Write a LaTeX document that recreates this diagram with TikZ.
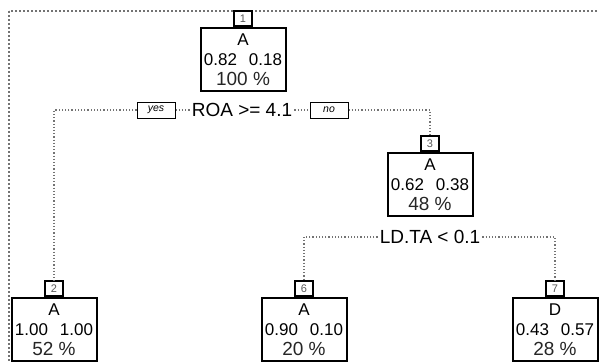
\documentclass[tikz,border=0pt]{standalone}
\usepackage{fontspec}
\setmainfont{Liberation Sans}
\newcommand\mytreenode[7]{%
  \node[treebox] (#1) at (#2,#3) {};
  \node[labbox] (#1l) at (#1.north) {#4};
  \node[clstext] (#1c) at (#2,#3+13) {#5};
  \node[clstext] (#1p) at (#2,#3+33) {#6};
  \node[pcttext] (#1q) at (#2,#3+52) {#7};
}
\begin{document}
\begin{tikzpicture}[x=1pt,y=-1pt,
  treebox/.style={draw, line width=2pt, minimum width=85pt, minimum height=63pt, anchor=north, inner sep=0pt},
  labbox/.style={draw, fill=white, line width=1.6pt, minimum width=18pt, minimum height=15pt, inner sep=0pt, anchor=south, font=\fontsize{11}{11}\selectfont, text=black!65},
  clstext/.style={font=\fontsize{17}{17}\selectfont, inner sep=0pt},
  pcttext/.style={font=\fontsize{19}{19}\selectfont, inner sep=0pt, text=black!85},
  splittext/.style={font=\fontsize{19}{19}\selectfont, inner sep=2pt},
  ynbox/.style={draw, line width=1pt, minimum width=38pt, minimum height=16pt, inner sep=0pt, font=\fontsize{10.5}{10.5}\selectfont\itshape},
  conn/.style={black!55, line width=1.2pt, dash pattern=on 1.2pt off 2pt},
  framestyle/.style={black!55, line width=1.1pt, dash pattern=on 2pt off 2pt}]
\useasboundingbox (0,0) rectangle (599,362);
\clip (0,0) rectangle (599,362);
\draw[framestyle] (9,11) rectangle (700,500);

\mytreenode{n1}{243}{27}{1}{A}{0.82\hspace{0.7em}0.18}{100 \%}
\mytreenode{n3}{430}{152}{3}{A}{0.62\hspace{0.7em}0.38}{48 \%}
\mytreenode{n2}{54}{297}{2}{A}{1.00\hspace{0.7em}1.00}{52 \%}
\mytreenode{n6}{304}{297}{6}{A}{0.90\hspace{0.7em}0.10}{20 \%}
\mytreenode{n7}{555}{297}{7}{D}{0.43\hspace{0.7em}0.57}{28 \%}

\node[splittext] (s1) at (242,110) {ROA >= 4.1};
\node[ynbox] (yes) at (156,110) {yes};
\node[ynbox] (no) at (329,110) {no};
\draw[conn] (yes.west) -| (n2l.north);
\draw[conn] (yes.east) -- (s1.west);
\draw[conn] (s1.east) -- (no.west);
\draw[conn] (no.east) -| (n3l.north);

\node[splittext] (s2) at (430,237) {LD.TA < 0.1};
\draw[conn] (s2.west) -| (n6l.north);
\draw[conn] (s2.east) -| (n7l.north);
\end{tikzpicture}
\end{document}
